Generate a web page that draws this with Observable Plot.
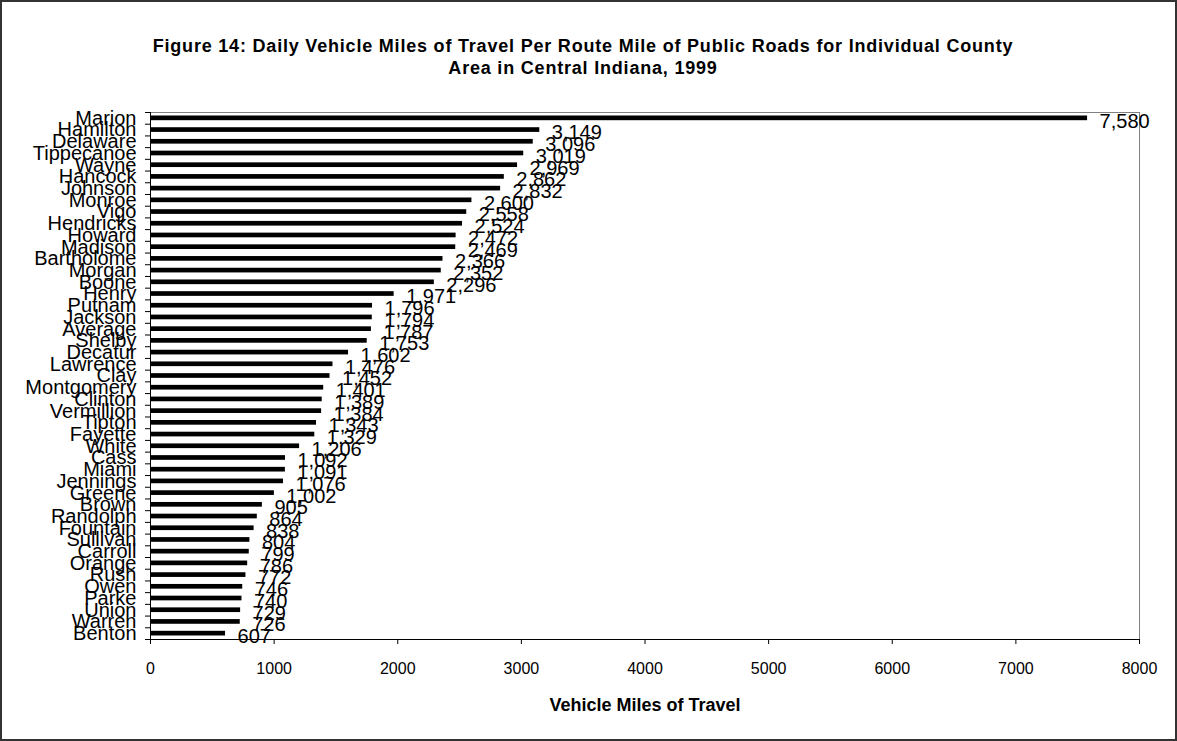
<!DOCTYPE html>
<html>
<head>
<meta charset="utf-8">
<script src="https://cdn.jsdelivr.net/npm/d3@7"></script>
<script src="https://cdn.jsdelivr.net/npm/@observablehq/plot@0.6"></script>
<style>
  html, body { margin: 0; padding: 0; background: #fff; }
  #page {
    position: relative; width: 1177px; height: 741px; box-sizing: border-box;
    border: 2px solid #333; overflow: hidden;
    font-family: "Liberation Sans", Arial, sans-serif;
  }
  #title {
    position: absolute; left: 0; top: 33px; width: 1162px; text-align: center;
    font-weight: bold; font-size: 18px; line-height: 22px; letter-spacing: 0.8px; color: #000;
  }
  #chart { position: absolute; left: -2px; top: 98px; width: 1177px; height: 630px; }
  #chart svg { display: block; max-width: none; }
</style>
</head>
<body>
<div id="page">
  <div id="title">Figure 14: Daily Vehicle Miles of Travel Per Route Mile of Public Roads for Individual County<br>Area in Central Indiana, 1999</div>
  <div id="chart"></div>
</div>
<script>
// Counties, top to bottom
const counties = [
  "Marion", "Hamilton", "Delaware", "Tippecanoe", "Wayne", "Hancock", "Johnson",
  "Monroe", "Vigo", "Hendricks", "Howard", "Madison", "Bartholome", "Morgan",
  "Boone", "Henry", "Putnam", "Jackson", "Average", "Shelby", "Decatur",
  "Lawrence", "Clay", "Montgomery", "Clinton", "Vermillion", "Tipton", "Fayette",
  "White", "Cass", "Miami", "Jennings", "Greene", "Brown", "Randolph", "Fountain",
  "Sullivan", "Carroll", "Orange", "Rush", "Owen", "Parke", "Union", "Warren", "Benton"
];
// Daily vehicle miles of travel per route mile
const vmt = [
  7580, 3149, 3096, 3019, 2969, 2862, 2832,
  2600, 2558, 2524, 2472, 2469, 2366, 2352,
  2296, 1971, 1796, 1794, 1787, 1753, 1602,
  1476, 1452, 1401, 1389, 1384, 1343, 1329,
  1206, 1092, 1091, 1076, 1002, 905, 864, 838,
  804, 799, 786, 772, 746, 740, 729, 726, 607
];
const xTicks = [0, 1000, 2000, 3000, 4000, 5000, 6000, 7000, 8000];

const rows = counties.map((name, i) => ({name, value: vmt[i]}));

const W = 1177, H = 630, mt = 12, mb = 91, ml = 150, mr = 38;
// each county gets an equal slot; bars are centred in their slot
const step = (H - mt - mb) / counties.length;
const fmt = d3.format(",");

const chart = Plot.plot({
  width: W, height: H,
  marginTop: mt, marginBottom: mb, marginLeft: ml, marginRight: mr,
  style: {fontFamily: "'Liberation Sans', Arial, sans-serif", background: "#fff", color: "#000"},
  x: {domain: [0, 8000]},
  y: {domain: counties, paddingInner: 0.6, paddingOuter: 0.3, align: 0.5},
  marks: [
    Plot.frame({stroke: "#808080"}),
    Plot.barX(rows, {x: "value", y: "name", fill: "#000"}),
    Plot.text(rows, {
      x: "value", y: "name", text: d => fmt(d.value),
      textAnchor: "start", dx: 12, dy: 3, fontSize: 20, fill: "#000"
    }),
    // category ticks sit on the slot boundaries, left of the axis
    Plot.ruleY(counties, {y: d => d, x1: 0, x2: 0, insetLeft: -5, dy: -step / 2, stroke: "#000"}),
    Plot.ruleY(counties.slice(-1), {y: d => d, x1: 0, x2: 0, insetLeft: -5, dy: step / 2, stroke: "#000"}),
    Plot.axisY({tickSize: 0, tickPadding: 14, fontSize: 20, label: null}),
    Plot.axisX({ticks: xTicks, tickFormat: d => String(d), tickSize: 5, tickPadding: 18, fontSize: 16, label: null}),
    Plot.frame({anchor: "bottom", stroke: "#000"}),
    Plot.ruleX([0], {stroke: "#000"}),
    Plot.text(["Vehicle Miles of Travel"], {
      frameAnchor: "bottom", dy: 71, fontSize: 18, fontWeight: "bold", fill: "#000",
      style: "letter-spacing: 1px"
    })
  ]
});
document.getElementById("chart").appendChild(chart);
</script>
</body>
</html>
